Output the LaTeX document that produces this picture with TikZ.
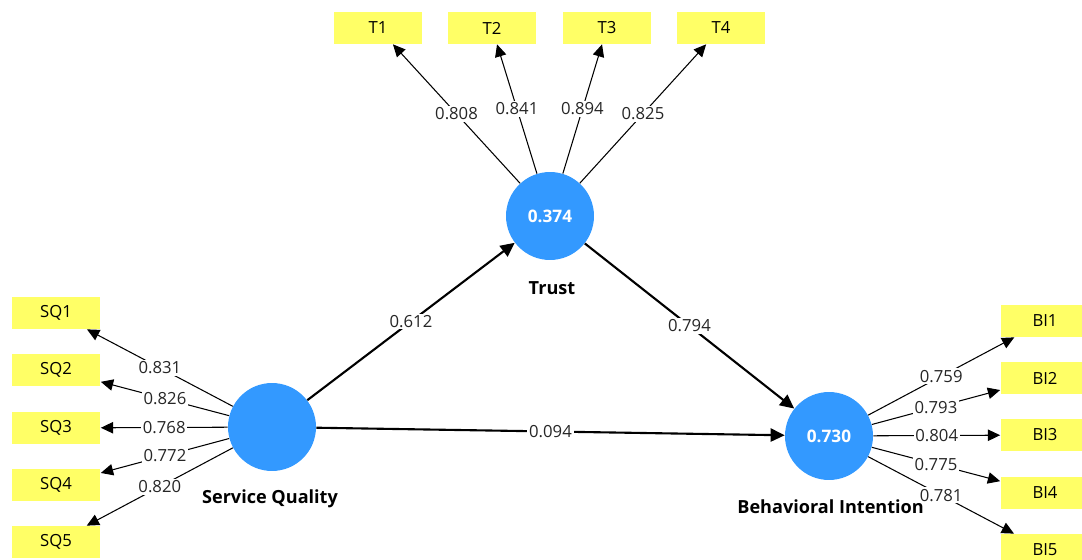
\documentclass[tikz,border=0pt]{standalone}
\usepackage{fontspec}
\setmainfont{Open Sans}
\usetikzlibrary{arrows.meta}
\definecolor{lvblue}{RGB}{51,153,255}
\definecolor{indyellow}{RGB}{255,255,102}
\tikzset{
  lv/.style={circle, fill=lvblue, minimum size=1.76cm, inner sep=0pt, text=white, font=\fontsize{9.8pt}{11pt}\selectfont\bfseries},
  ind/.style={rectangle, fill=indyellow, minimum width=1.78cm, minimum height=0.64cm, inner sep=0pt, font=\fontsize{9.5pt}{11pt}\selectfont},
  lvname/.style={font=\fontsize{10.3pt}{12pt}\selectfont\bfseries, inner sep=0pt},
  loading/.style={draw=black, line width=0.6pt, -{Triangle[length=7pt,width=6.5pt]}},
  strpath/.style={draw=black, line width=1.2pt, -{Triangle[length=8pt,width=7.5pt]}},
  lbl/.style={fill=white, inner sep=1pt, font=\fontsize{9.5pt}{11pt}\selectfont, text=black!85}
}
\begin{document}
\begin{tikzpicture}[x=0.02cm,y=-0.02cm]
\useasboundingbox (0,0) rectangle (1082,560);
\clip (0,0) rectangle (1082,560);
% latent variables
\node[lv] (SQ) at (272,427) {};
\node[lv] (TR) at (550,216) {0.374};
\node[lv] (BI) at (829,436) {0.730};
\node[lvname] (SQn) at (270,499) {Service Quality};
\node[lvname] (TRn) at (552,288) {Trust};
\node[lvname, anchor=west] (BIn) at (737,507) {Behavioral Intention};
% indicators
\node[ind] (T1) at (378,28) {T1};
\node[ind] (T2) at (492,28) {T2};
\node[ind] (T3) at (607,28) {T3};
\node[ind] (T4) at (721,28) {T4};
\node[ind] (SQ1) at (56,313) {SQ1};
\node[ind] (SQ2) at (56,370) {SQ2};
\node[ind] (SQ3) at (56,428) {SQ3};
\node[ind] (SQ4) at (56,485) {SQ4};
\node[ind] (SQ5) at (56,542) {SQ5};
\node[ind] (BI1) at (1045,321) {BI1};
\node[ind] (BI2) at (1045,378) {BI2};
\node[ind] (BI3) at (1045,435) {BI3};
\node[ind] (BI4) at (1045,493) {BI4};
\node[ind] (BI5) at (1045,550) {BI5};
% loadings
\draw[loading] (TR) -- node[lbl] {0.808} (T1);
\draw[loading] (TR) -- node[lbl] {0.841} (T2);
\draw[loading] (TR) -- node[lbl] {0.894} (T3);
\draw[loading] (TR) -- node[lbl] {0.825} (T4);
\draw[loading] (SQ) -- node[lbl] {0.831} (SQ1);
\draw[loading] (SQ) -- node[lbl] {0.826} (SQ2);
\draw[loading] (SQ) -- node[lbl] {0.768} (SQ3);
\draw[loading] (SQ) -- node[lbl] {0.772} (SQ4);
\draw[loading] (SQ) -- node[lbl] {0.820} (SQ5);
\draw[loading] (BI) -- node[lbl] {0.759} (BI1);
\draw[loading] (BI) -- node[lbl] {0.793} (BI2);
\draw[loading] (BI) -- node[lbl] {0.804} (BI3);
\draw[loading] (BI) -- node[lbl] {0.775} (BI4);
\draw[loading] (BI) -- node[lbl] {0.781} (BI5);
% structural paths
\draw[strpath] (SQ) -- node[lbl] {0.612} (TR);
\draw[strpath] (TR) -- node[lbl] {0.794} (BI);
\draw[strpath] (SQ) -- node[lbl] {0.094} (BI);
\end{tikzpicture}
\end{document}
